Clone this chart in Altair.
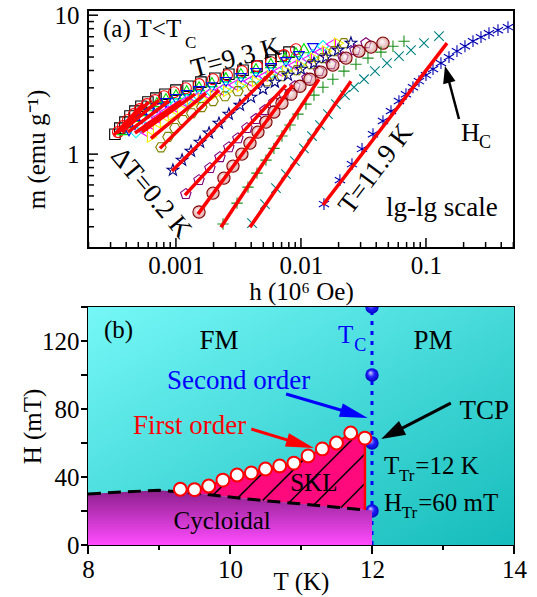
import math
import numpy as np
import pandas as pd
import altair as alt

FONT = "Liberation Serif"

# ======================= panel (a): isotherms m(h), lg-lg =======================
temps_a = [9.3, 9.5, 9.7, 9.9, 10.1, 10.3, 10.5, 10.7, 10.9, 11.1, 11.3, 11.5, 11.7, 11.9]

h_93 = [3.25e-4, 3.56e-4, 3.91e-4, 4.29e-4, 4.70e-4, 5.25e-4, 5.97e-4, 6.92e-4, 8.17e-4, 1.00e-3,
        1.25e-3, 1.585e-3, 2.05e-3, 2.65e-3, 3.44e-3, 4.45e-3, 5.75e-3, 6.92e-3, 8.02e-3]
m_93 = [1.39, 1.54, 1.70, 1.88, 2.04, 2.21, 2.37, 2.53, 2.70, 2.89, 3.08, 3.30, 3.52, 3.76, 4.02,
        4.30, 4.75, 5.07, 5.42]
h_95 = [3.44e-4, 3.77e-4, 4.13e-4, 4.61e-4, 5.15e-4, 5.86e-4, 6.79e-4, 8.02e-4, 9.64e-4, 1.20e-3,
        1.53e-3, 1.98e-3, 2.56e-3, 3.37e-3, 4.45e-3, 5.75e-3, 7.31e-3, 9.12e-3]
m_95 = [1.44, 1.59, 1.76, 1.94, 2.11, 2.29, 2.45, 2.61, 2.79, 2.98, 3.19, 3.46, 3.70, 3.96, 4.30,
        4.59, 5.16, 5.69]
h_97 = [3.77e-4, 4.21e-4, 4.70e-4, 5.35e-4, 6.08e-4, 7.05e-4, 8.32e-4, 1.00e-3, 1.22e-3, 1.53e-3,
        1.94e-3, 2.51e-3, 3.31e-3, 4.37e-3, 5.75e-3, 7.45e-3, 9.12e-3, 1.057e-2]
m_97 = [1.49, 1.67, 1.85, 2.04, 2.21, 2.37, 2.53, 2.70, 2.89, 3.08, 3.30, 3.58, 3.83, 4.16, 4.52,
        4.99, 5.42, 5.79]
h_99 = [4.21e-4, 4.70e-4, 5.35e-4, 6.08e-4, 7.05e-4, 8.32e-4, 1.00e-3, 1.22e-3, 1.53e-3, 1.94e-3,
        2.51e-3, 3.31e-3, 4.37e-3, 5.75e-3, 7.59e-3, 9.64e-3, 1.247e-2]
m_99 = [1.46, 1.62, 1.79, 1.97, 2.14, 2.33, 2.49, 2.66, 2.84, 3.03, 3.30, 3.52, 3.83, 4.16, 4.59,
        5.07, 5.79]
h_101 = [4.79e-4, 5.35e-4, 6.08e-4, 7.05e-4, 8.32e-4, 1.00e-3, 1.22e-3, 1.53e-3, 1.94e-3, 2.51e-3,
         3.31e-3, 4.37e-3, 5.75e-3, 7.59e-3, 1.00e-2, 1.247e-2, 1.50e-2]
m_101 = [1.44, 1.59, 1.76, 1.94, 2.11, 2.29, 2.45, 2.61, 2.79, 3.03, 3.24, 3.52, 3.83, 4.16, 4.59,
         5.16, 5.98]
h_103 = [5.45e-4, 6.08e-4, 6.92e-4, 8.02e-4, 9.46e-4, 1.14e-3, 1.39e-3, 1.74e-3, 2.21e-3, 2.86e-3,
         3.77e-3, 4.97e-3, 6.55e-3, 8.63e-3, 1.117e-2, 1.393e-2, 1.738e-2]
m_103 = [1.46, 1.64, 1.82, 2.01, 2.18, 2.37, 2.53, 2.70, 2.89, 3.14, 3.35, 3.64, 3.96, 4.37, 4.83,
         5.42, 6.19]
h_105 = [6.43e-4, 7.18e-4, 8.17e-4, 9.46e-4, 1.12e-3, 1.34e-3, 1.64e-3, 2.05e-3, 2.61e-3, 3.37e-3,
         4.45e-3, 5.86e-3, 7.73e-3, 1.00e-2, 1.294e-2, 1.614e-2, 2.014e-2]
m_105 = [1.33, 1.51, 1.70, 1.91, 2.11, 2.29, 2.49, 2.66, 2.84, 3.08, 3.35, 3.64, 3.96, 4.37, 4.91,
         5.51, 6.29]
h_107 = [7.59e-4, 8.63e-4, 9.82e-4, 1.14e-3, 1.34e-3, 1.61e-3, 1.98e-3, 2.47e-3, 3.13e-3, 4.06e-3,
         5.35e-3, 7.05e-3, 9.29e-3, 1.202e-2, 1.50e-2, 1.837e-2, 2.208e-2]
m_107 = [1.12, 1.33, 1.54, 1.76, 1.97, 2.18, 2.41, 2.61, 2.84, 3.08, 3.35, 3.64, 4.02, 4.44, 4.91,
         5.51, 6.29]
h_109 = [9.46e-4, 1.12e-3, 1.32e-3, 1.56e-3, 1.84e-3, 2.21e-3, 2.65e-3, 3.25e-3, 3.98e-3, 4.97e-3,
         6.19e-3, 7.87e-3, 1.00e-2, 1.271e-2, 1.585e-2, 1.977e-2, 2.512e-2]
m_109 = [0.767, 0.905, 1.05, 1.22, 1.42, 1.67, 1.94, 2.25, 2.57, 2.94, 3.30, 3.70, 4.09, 4.52, 4.99,
         5.60, 6.29]
h_111 = [1.20e-3, 1.53e-3, 1.87e-3, 2.25e-3, 2.65e-3, 3.13e-3, 3.70e-3, 4.37e-3, 5.15e-3, 6.08e-3,
         7.31e-3, 8.95e-3, 1.117e-2, 1.393e-2, 1.738e-2, 2.168e-2, 2.704e-2, 3.311e-2]
m_111 = [0.516, 0.650, 0.793, 0.951, 1.12, 1.30, 1.54, 1.79, 2.07, 2.37, 2.70, 3.08, 3.52, 3.96,
         4.44, 4.99, 5.60, 6.29]
h_113 = [1.53e-3, 1.98e-3, 2.42e-3, 2.86e-3, 3.37e-3, 3.91e-3, 4.53e-3, 5.25e-3, 6.08e-3, 7.05e-3,
         8.32e-3, 9.82e-3, 1.18e-2, 1.445e-2, 1.80e-2, 2.291e-2, 2.911e-2, 3.631e-2, 4.529e-2]
m_113 = [0.383, 0.524, 0.672, 0.820, 1.00, 1.20, 1.44, 1.70, 2.01, 2.33, 2.70, 3.08, 3.46, 3.89,
         4.37, 4.91, 5.51, 5.89, 6.29]
h_115 = [2.38e-3, 3.08e-3, 3.77e-3, 4.45e-3, 5.25e-3, 6.08e-3, 7.05e-3, 8.17e-3, 9.46e-3, 1.096e-2,
         1.271e-2, 1.50e-2, 1.80e-2, 2.208e-2, 2.754e-2, 3.436e-2, 4.365e-2, 5.445e-2, 6.668e-2]
m_115 = [0.314, 0.444, 0.579, 0.730, 0.905, 1.10, 1.35, 1.62, 1.94, 2.29, 2.66, 3.03, 3.46, 3.96,
         4.44, 4.91, 5.42, 5.98, 6.50]
h_117 = [4.06e-3, 5.15e-3, 6.31e-3, 7.59e-3, 8.95e-3, 1.057e-2, 1.225e-2, 1.419e-2, 1.644e-2,
         1.905e-2, 2.249e-2, 2.655e-2, 3.192e-2, 3.908e-2, 4.875e-2, 6.081e-2, 7.586e-2, 9.64e-2, 0.1271]
m_117 = [0.319, 0.437, 0.569, 0.718, 0.891, 1.10, 1.35, 1.62, 1.94, 2.29, 2.66, 3.03, 3.46, 3.96,
         4.52, 5.07, 5.60, 6.29, 7.06]
h_119 = [0.01528, 0.0205, 0.0256, 0.0308, 0.0377, 0.0453, 0.0525, 0.0608, 0.0692, 0.0787, 0.0879,
         0.100, 0.1138, 0.1318, 0.1528, 0.1770, 0.2051, 0.2377, 0.2754, 0.3192, 0.3767, 0.4529]
m_119 = [0.437, 0.650, 0.847, 1.09, 1.39, 1.73, 2.04, 2.41, 2.70, 3.03, 3.35, 3.70, 4.09, 4.52, 4.99,
         5.51, 5.98, 6.50, 6.95, 7.42, 7.80, 8.20]

# red linear (lg-lg) fits, one per isotherm: from (fit_h0, fit_m0) to (fit_h1, fit_m1)
fit_h0 = [3.19e-4, 3.37e-4, 3.70e-4, 4.13e-4, 4.70e-4, 5.35e-4, 6.31e-4, 7.45e-4, 9.29e-4, 1.18e-3,
          1.50e-3, 2.29e-3, 3.91e-3, 1.50e-2]
fit_m0 = [1.37, 1.42, 1.46, 1.44, 1.42, 1.44, 1.30, 1.10, 0.755, 0.507, 0.370, 0.298, 0.298, 0.430]
fit_h1 = [5.45e-4, 6.08e-4, 7.31e-4, 8.79e-4, 1.10e-3, 1.42e-3, 1.74e-3, 2.21e-3, 5.97e-3, 7.59e-3,
          8.63e-3, 1.393e-2, 2.512e-2, 0.1472]
fit_m1 = [2.29, 2.37, 2.45, 2.41, 2.41, 2.70, 2.75, 2.89, 3.96, 3.14, 3.14, 3.46, 3.35, 6.29]

xa_major = [0.001, 0.01, 0.1]
xa_minor = [2e-4, 3e-4, 4e-4, 5e-4, 6e-4, 7e-4, 8e-4, 9e-4, 2e-3, 3e-3, 4e-3, 5e-3, 6e-3, 7e-3,
            8e-3, 9e-3, 0.02, 0.03, 0.04, 0.05, 0.06, 0.07, 0.08, 0.09, 0.2, 0.3, 0.4, 0.5]
ya_major = [1, 10]
ya_minor = [0.3, 0.4, 0.5, 0.6, 0.7, 0.8, 0.9, 2, 3, 4, 5, 6, 7, 8, 9]

# ======================= panel (b): H-T phase diagram =======================
skl_T = [9.3, 9.5, 9.7, 9.9, 10.1, 10.3, 10.5, 10.7, 10.9, 11.1, 11.3, 11.5, 11.7, 11.9]
skl_H = [32.8, 32.6, 34.7, 38.2, 41.2, 42.4, 44.7, 46.5, 48.2, 52.4, 56.5, 60.0, 65.9, 62.9]
dash_T = [8.0, 8.5, 9.0, 9.5, 10.0, 10.5, 11.0, 11.5, 11.9]
dash_H = [30.0, 31.2, 32.2, 30.5, 28.2, 26.0, 24.2, 22.2, 20.6]
cyc_T = dash_T + [12.0]
cyc_H = dash_H + [20.3]
tc_T = 12.0
tc_H = [140, 100, 60, 20]
hatch_T = [9.76, 10.11, 10.46, 10.83, 11.18, 11.56]

xb_major = [8, 10, 12, 14]
xb_minor = [9, 11, 13]
yb_ticks = [0, 20, 40, 60, 80, 100, 120, 140]

# ======================= geometry =======================
WA, HA = 426, 238
XA_DOM = [1.98e-4, 0.506]
YA_DOM = [0.211, 10.9]
WB, HB = 426, 238
XB_DOM = [8, 14]
YB_DOM = [0, 140]

LX0, LX1 = math.log10(XA_DOM[0]), math.log10(XA_DOM[1])
LY0, LY1 = math.log10(YA_DOM[0]), math.log10(YA_DOM[1])


def a_to_px(h, m):
    return (WA * (math.log10(h) - LX0) / (LX1 - LX0),
            HA * (1 - (math.log10(m) - LY0) / (LY1 - LY0)))


def a_from_px(px, py):
    return (10 ** (LX0 + px / WA * (LX1 - LX0)), 10 ** (LY0 + (1 - py / HA) * (LY1 - LY0)))


def b_to_px(t, hh):
    return ((t - XB_DOM[0]) / (XB_DOM[1] - XB_DOM[0]) * WB,
            HB * (1 - (hh - YB_DOM[0]) / (YB_DOM[1] - YB_DOM[0])))


def b_from_px(px, py):
    return (XB_DOM[0] + px / WB * (XB_DOM[1] - XB_DOM[0]),
            YB_DOM[0] + (1 - py / HB) * (YB_DOM[1] - YB_DOM[0]))


XA = alt.X("h:Q", scale=alt.Scale(type="log", domain=XA_DOM, nice=False),
           axis=alt.Axis(values=xa_major, format="~g", labelPadding=5, labelFlush=False,
                         labelOverlap=False, title="h (10⁶ Oe)", titleY=51,
                         titleBaseline="alphabetic"))
YA = alt.Y("m:Q", scale=alt.Scale(type="log", domain=YA_DOM, nice=False),
           axis=alt.Axis(values=ya_major, format="~g", labelPadding=9, labelOverlap=False,
                         title="m (emu g⁻¹)", titleX=-52, titleY=139, titleAngle=270,
                         titleBaseline="middle", titleAlign="center"))
XB = alt.X("T:Q", scale=alt.Scale(domain=XB_DOM, nice=False, zero=False),
           axis=alt.Axis(values=xb_major, format="d", labelPadding=12, labelFlush=False,
                         labelOverlap=False, title="T (K)", titleY=44,
                         titleBaseline="alphabetic"))
YB = alt.Y("H:Q", scale=alt.Scale(domain=YB_DOM, nice=False),
           axis=alt.Axis(values=[0, 40, 80, 120], format="d", labelPadding=9, labelOverlap=False,
                         title="H (mT)", titleX=-56, titleY=119, titleAngle=270,
                         titleBaseline="middle", titleAlign="center"))


def label(x, y, s, xn, yn, X, Y, size=25, color="black", align="left",
          baseline="alphabetic", angle=0):
    df = pd.DataFrame({xn: [x], yn: [y], "t": [s]})
    return alt.Chart(df).mark_text(font=FONT, fontSize=size, color=color, align=align,
                                   baseline=baseline, angle=angle).encode(x=X, y=Y, text="t:N")


def arrow(start, tip, to_px, from_px, xn, yn, X, Y, color, head_len, ratio, width):
    sx, sy = to_px(*start)
    tx, ty = to_px(*tip)
    dx, dy = tx - sx, ty - sy
    d = math.hypot(dx, dy)
    ux, uy = dx / d, dy / d
    c = from_px(tx - ux * head_len / 2, ty - uy * head_len / 2)
    e = from_px(tx - ux * head_len * 0.6, ty - uy * head_len * 0.6)
    ang = math.degrees(math.atan2(ux, -uy)) % 360
    shaft = alt.Chart(pd.DataFrame({xn: [start[0]], yn: [start[1]],
                                    xn + "2": [e[0]], yn + "2": [e[1]]})).mark_rule(
        color=color, strokeWidth=width).encode(x=X, y=Y, x2=alt.X2(xn + "2"), y2=alt.Y2(yn + "2"))
    head = alt.Chart(pd.DataFrame({xn: [c[0]], yn: [c[1]]})).mark_point(
        shape=f"M0,-1L{ratio},1L-{ratio},1Z", size=head_len ** 2, filled=True, color=color,
        opacity=1, angle=ang, strokeWidth=0).encode(x=X, y=Y)
    return [shaft, head]


HEX = "M-0.5,-0.866L0.5,-0.866L1,0L0.5,0.866L-0.5,0.866L-1,0Z"
STAR = ("M0,-1L0.235,-0.324L0.951,-0.309L0.38,0.124L0.588,0.809L0,0.4L-0.588,0.809"
        "L-0.38,0.124L-0.951,-0.309L-0.235,-0.324Z")
PENT = "M0,-1L0.951,-0.309L0.588,0.809L-0.588,0.809L-0.951,-0.309Z"
PLUS = "M-1,0L1,0M0,-1L0,1"
XMARK = "M-1,-1L1,1M-1,1L1,-1"
ASTER = "M0,-1L0,1M-0.87,-0.5L0.87,0.5M-0.87,0.5L0.87,-0.5"

curves = [
    (h_93, m_93, "square", "#000000", 110),
    (h_95, m_95, "circle", "#ff0000", 120),
    (h_97, m_97, "triangle-up", "#00e000", 110),
    (h_99, m_99, "triangle-down", "#0000ff", 110),
    (h_101, m_101, "diamond", "#00f0f0", 130),
    (h_103, m_103, "triangle-left", "#ff00ff", 110),
    (h_105, m_105, "triangle-right", "#f0f000", 110),
    (h_107, m_107, HEX, "#808000", 110),
    (h_109, m_109, STAR, "#000080", 150),
    (h_111, m_111, PENT, "#800080", 120),
    (None, None, None, None, None),
    (h_115, m_115, PLUS, "#1a8f1a", 130),
    (h_117, m_117, XMARK, "#008080", 90),
    (h_119, m_119, ASTER, "#0000b0", 140),
]

layers_a = []
for i, (hs, ms, shp, col, sz) in enumerate(curves):
    if hs is None:
        wine_fill = alt.RadialGradient(
            gradient="radial", x1=0.4, y1=0.35, r1=0, x2=0.5, y2=0.5, r2=0.5,
            stops=[alt.GradientStop(color="#ffffff", offset=0),
                   alt.GradientStop(color="#c86a6a", offset=1)])
        layers_a.append(alt.Chart(pd.DataFrame({"h": h_113, "m": m_113})).mark_point(
            shape="circle", filled=True, fill=wine_fill, fillOpacity=0.6, stroke="#800000",
            strokeWidth=1.1, size=150, opacity=1).encode(x=XA, y=YA))
        continue
    layers_a.append(alt.Chart(pd.DataFrame({"h": hs, "m": ms})).mark_point(
        shape=shp, color=col, filled=False, size=sz, strokeWidth=1.1, opacity=1).encode(x=XA, y=YA))

fit_df = pd.DataFrame({"h": fit_h0, "m": fit_m0, "h2": fit_h1, "m2": fit_m1})
layers_a.append(alt.Chart(fit_df).mark_rule(color="#ff0000", strokeWidth=3.5).encode(
    x=XA, y=YA, x2=alt.X2("h2"), y2=alt.Y2("m2")))

# inward ticks
layers_a.append(alt.Chart(pd.DataFrame({"h": xa_major})).mark_rule(color="black", strokeWidth=1.5)
                .encode(x=XA, y=alt.value(HA), y2=alt.value(HA - 10)))
layers_a.append(alt.Chart(pd.DataFrame({"h": xa_minor})).mark_rule(color="black", strokeWidth=1.5)
                .encode(x=XA, y=alt.value(HA), y2=alt.value(HA - 6)))
layers_a.append(alt.Chart(pd.DataFrame({"m": ya_major})).mark_rule(color="black", strokeWidth=1.5)
                .encode(y=YA, x=alt.value(0), x2=alt.value(10)))
layers_a.append(alt.Chart(pd.DataFrame({"m": ya_minor})).mark_rule(color="black", strokeWidth=1.5)
                .encode(y=YA, x=alt.value(0), x2=alt.value(6)))

A = ("h", "m", XA, YA)
layers_a += [
    label(2.61e-4, 6.95, "(a) T<T", *A, size=25),
    label(1.18e-3, 5.79, "C", *A, size=17),
    label(3.02e-3, 4.91, "T=9.3 K", *A, size=27, align="center", baseline="middle", angle=345),
    label(6.31e-4, 0.524, "ΔT=0.2 K", *A, size=27, align="center", baseline="middle", angle=50),
    label(0.0398, 0.780, "T=11.9 K", *A, size=27, align="center", baseline="middle", angle=307),
    label(0.134, 0.358, "lg-lg scale", *A, size=27, align="center"),
    label(0.1905, 1.24, "H", *A, size=26),
    label(0.2655, 1.10, "C", *A, size=18),
]
layers_a += arrow((0.1837, 1.79), (0.1419, 4.30), a_to_px, a_from_px, "h", "m", XA, YA,
                  "black", 17, 0.75, 2.5)

panel_a = alt.layer(*layers_a).properties(width=WA, height=HA)

# ---------------- panel (b) ----------------
bg_fill = alt.LinearGradient(gradient="linear", x1=0, y1=0, x2=1, y2=1,
                             stops=[alt.GradientStop(color="#76f7f7", offset=0),
                                    alt.GradientStop(color="#15bcbb", offset=1)])
cyc_fill = alt.LinearGradient(gradient="linear", x1=0, y1=0, x2=0, y2=1,
                              stops=[alt.GradientStop(color="#8c1f8c", offset=0),
                                     alt.GradientStop(color="#ff4cff", offset=1)])
sphere_fill = alt.RadialGradient(gradient="radial", x1=0.38, y1=0.32, r1=0, x2=0.5, y2=0.5, r2=0.55,
                                 stops=[alt.GradientStop(color="#d8d8ff", offset=0),
                                        alt.GradientStop(color="#2222ff", offset=0.45),
                                        alt.GradientStop(color="#0000b8", offset=1)])

layers_b = []
layers_b.append(alt.Chart(pd.DataFrame({"T": [XB_DOM[0]], "T2": [XB_DOM[1]], "H": [YB_DOM[0]],
                                        "H2": [YB_DOM[1]]})).mark_rect(fill=bg_fill).encode(
    x=XB, x2=alt.X2("T2"), y=YB, y2=alt.Y2("H2")))
layers_b.append(alt.Chart(pd.DataFrame({"T": [tc_T], "H": [YB_DOM[0]], "H2": [YB_DOM[1]]}))
                .mark_rule(color="#0000ff", strokeWidth=3, strokeDash=[4, 6]).encode(
    x=XB, y=YB, y2=alt.Y2("H2")))
layers_b.append(alt.Chart(pd.DataFrame({"T": [tc_T] * len(tc_H), "H": tc_H})).mark_point(
    shape="circle", filled=True, fill=sphere_fill, size=180, opacity=1, strokeWidth=0,
    clip=True).encode(x=XB, y=YB))
layers_b.append(alt.Chart(pd.DataFrame({"T": cyc_T, "H": cyc_H, "H0": [0] * len(cyc_T)}))
                .mark_area(fill=cyc_fill, opacity=1).encode(x=XB, y=YB, y2=alt.Y2("H0")))
skl_bottom = list(np.interp(skl_T, dash_T, dash_H))
layers_b.append(alt.Chart(pd.DataFrame({"T": skl_T, "H": skl_H, "Hb": skl_bottom}))
                .mark_area(color="#ff0a7c", opacity=1).encode(x=XB, y=YB, y2=alt.Y2("Hb")))

# hatching at 45 deg (pixel space) from the dashed line to the first-order line
slope = (WB / (XB_DOM[1] - XB_DOM[0])) / (HB / (YB_DOM[1] - YB_DOM[0]))
h_rows = []
for t0 in hatch_T:
    h0 = float(np.interp(t0, dash_T, dash_H))
    ts = np.linspace(t0, skl_T[-1], 600)
    top = np.interp(ts, skl_T, skl_H)
    line = h0 + slope * (ts - t0)
    hit = np.nonzero(line >= top)[0]
    k = hit[0] if len(hit) else len(ts) - 1
    h_rows.append({"T": t0, "H": h0, "T2": float(ts[k]), "H2": float(line[k])})
layers_b.append(alt.Chart(pd.DataFrame(h_rows)).mark_rule(color="black", strokeWidth=1.5).encode(
    x=XB, y=YB, x2=alt.X2("T2"), y2=alt.Y2("H2")))

layers_b.append(alt.Chart(pd.DataFrame({"T": skl_T, "H": skl_H})).mark_line(
    color="#ff0000", strokeWidth=2).encode(x=XB, y=YB))
layers_b.append(alt.Chart(pd.DataFrame({"T": [skl_T[-1]], "H": [skl_bottom[-1]], "H2": [skl_H[-1]]}))
                .mark_rule(color="#ff0000", strokeWidth=2.5).encode(x=XB, y=YB, y2=alt.Y2("H2")))
layers_b.append(alt.Chart(pd.DataFrame({"T": dash_T, "H": dash_H})).mark_line(
    color="black", strokeWidth=3, strokeDash=[13, 7]).encode(x=XB, y=YB))
layers_b.append(alt.Chart(pd.DataFrame({"T": skl_T, "H": skl_H})).mark_point(
    shape="circle", filled=True, fill="white", stroke="#ff0000", strokeWidth=2, size=165,
    opacity=1).encode(x=XB, y=YB))

# outward ticks
layers_b.append(alt.Chart(pd.DataFrame({"T": xb_major})).mark_rule(color="black", strokeWidth=2)
                .encode(x=XB, y=alt.value(HB), y2=alt.value(HB + 9)))
layers_b.append(alt.Chart(pd.DataFrame({"T": xb_minor})).mark_rule(color="black", strokeWidth=2)
                .encode(x=XB, y=alt.value(HB), y2=alt.value(HB + 5)))
layers_b.append(alt.Chart(pd.DataFrame({"H": yb_ticks})).mark_rule(color="black", strokeWidth=2)
                .encode(y=YB, x=alt.value(0), x2=alt.value(-7)))

B = ("T", "H", XB, YB)
layers_b += [
    label(8.225, 121.8, "(b)", *B, size=25),
    label(9.845, 115.3, "FM", *B, size=27, align="center"),
    label(12.86, 115.3, "PM", *B, size=27, align="center"),
    label(11.52, 118.8, "T", *B, size=25, color="#0000ff"),
    label(11.75, 114.1, "C", *B, size=18, color="#0000ff"),
    label(10.12, 91.8, "Second order", *B, size=27, color="#0000ff", align="center"),
    label(9.43, 65.3, "First order", *B, size=27, color="#ff0000", align="center"),
    label(13.58, 74.1, "TCP", *B, size=27, align="center"),
    label(11.18, 31.8, "SKL", *B, size=25, align="center"),
    label(9.89, 9.4, "Cycloidal", *B, size=25, align="center"),
    label(12.17, 41.8, "T", *B, size=25),
    label(12.38, 37.6, "Tr", *B, size=17),
    label(12.61, 41.8, "=12 K", *B, size=25),
    label(12.17, 20.0, "H", *B, size=25),
    label(12.42, 15.9, "Tr", *B, size=17),
    label(12.65, 20.0, "=60 mT", *B, size=25),
]
layers_b += arrow((10.30, 68.2), (11.18, 57.1), b_to_px, b_from_px, "T", "H", XB, YB,
                  "#ff0000", 28, 0.5, 3)
layers_b += arrow((10.79, 88.8), (11.94, 74.7), b_to_px, b_from_px, "T", "H", XB, YB,
                  "#0000ff", 28, 0.5, 3)
layers_b += arrow((13.11, 83.5), (12.13, 62.4), b_to_px, b_from_px, "T", "H", XB, YB,
                  "black", 24, 0.65, 3)

panel_b = alt.layer(*layers_b).properties(width=WB, height=HB)

chart = alt.vconcat(panel_a, panel_b, spacing=59, bounds="flush").properties(
    padding={"left": 19, "top": 2, "right": 5, "bottom": 5}
).configure_axis(
    labelFont=FONT, titleFont=FONT, labelFontSize=25, titleFontSize=25,
    labelColor="black", titleColor="black", titleFontWeight="normal",
    grid=False, ticks=False, domain=False
).configure_view(stroke="black", strokeWidth=2)

chart.save("out.html", embed_options={"renderer": "svg", "actions": False})
